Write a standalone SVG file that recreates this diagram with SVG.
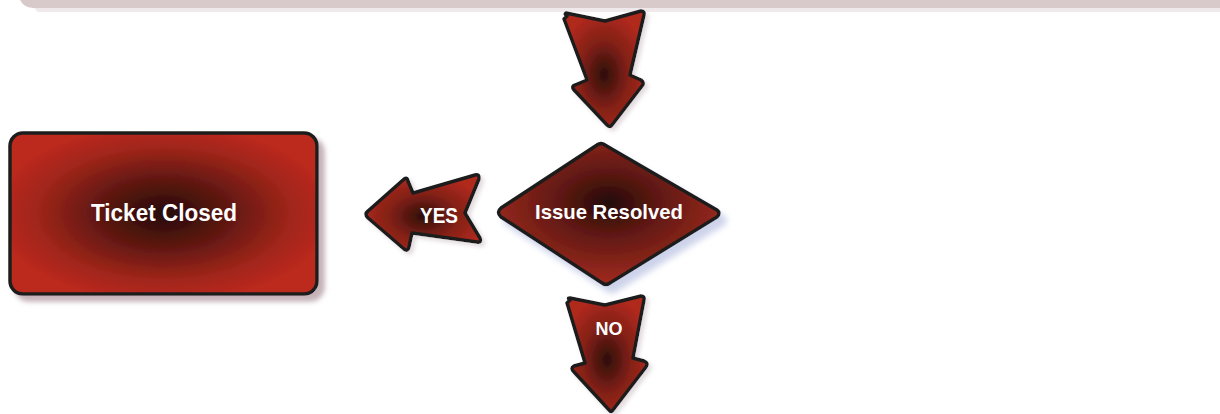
<svg xmlns="http://www.w3.org/2000/svg" width="1220" height="414" viewBox="0 0 1220 414">
  <defs>
    <radialGradient id="gBox" cx="50%" cy="50%" r="55%">
      <stop offset="0" stop-color="#250b08"/>
      <stop offset="0.35" stop-color="#5a1610"/>
      <stop offset="0.75" stop-color="#a0251a"/>
      <stop offset="1" stop-color="#bb291d"/>
    </radialGradient>
    <radialGradient id="gDia" cx="50%" cy="42%" r="55%">
      <stop offset="0" stop-color="#230a07"/>
      <stop offset="0.4" stop-color="#5e1812"/>
      <stop offset="1" stop-color="#9c291e"/>
    </radialGradient>
    <radialGradient id="gArrow" cx="50%" cy="55%" r="55%">
      <stop offset="0" stop-color="#2e0e0a"/>
      <stop offset="0.5" stop-color="#7e1f16"/>
      <stop offset="1" stop-color="#b0291d"/>
    </radialGradient>
    <filter id="shBox" x="-10%" y="-10%" width="125%" height="130%">
      <feGaussianBlur in="SourceAlpha" stdDeviation="2.5"/>
      <feOffset dx="6" dy="6" result="b"/>
      <feFlood flood-color="#c4b2b8"/>
      <feComposite in2="b" operator="in"/>
      <feMerge><feMergeNode/><feMergeNode in="SourceGraphic"/></feMerge>
    </filter>
    <filter id="shDia" x="-10%" y="-10%" width="125%" height="130%">
      <feGaussianBlur in="SourceAlpha" stdDeviation="3"/>
      <feOffset dx="6" dy="7" result="b"/>
      <feFlood flood-color="#cdd3ea"/>
      <feComposite in2="b" operator="in"/>
      <feMerge><feMergeNode/><feMergeNode in="SourceGraphic"/></feMerge>
    </filter>
    <filter id="shArr" x="-15%" y="-10%" width="135%" height="130%">
      <feGaussianBlur in="SourceAlpha" stdDeviation="2"/>
      <feOffset dx="3" dy="3" result="b"/>
      <feFlood flood-color="#e2dade"/>
      <feComposite in2="b" operator="in"/>
      <feMerge><feMergeNode/><feMergeNode in="SourceGraphic"/></feMerge>
    </filter>
  </defs>
  <style>
    .shape { stroke: #1e1e1c; stroke-width: 3.5; stroke-linejoin: round; }
    .lbl { font-family: "Liberation Sans", Arial, sans-serif; font-weight: bold; fill: #ffffff; text-anchor: middle; }
  </style>
  <rect width="1220" height="414" fill="#ffffff"/>

  <g id="top-bar">
    <path d="M20,0 H1220 V8 H34 Q24,8 20,0 Z" fill="#d8c9cb"/>
    <path d="M34,8 H1220 V12 H38 Z" fill="#efe9eb"/>
  </g>

  <g id="node-ticket-closed">
    <rect x="10" y="133" width="307" height="161" rx="13" ry="13" fill="url(#gBox)" class="shape" filter="url(#shBox)"/>
    <text x="164" y="221" class="lbl" font-size="23" textLength="146" lengthAdjust="spacingAndGlyphs">Ticket Closed</text>
  </g>

  <g id="node-issue-resolved">
    <path d="M501,208 L597,145 Q601,142 605,145 L717,210 Q721,213 717,217 L610,283 Q606,286 602,283 L501,217 Q496,212 501,208 Z" fill="url(#gDia)" class="shape" filter="url(#shDia)"/>
    <text x="609" y="219" class="lbl" font-size="21" textLength="148" lengthAdjust="spacingAndGlyphs">Issue Resolved</text>
  </g>

  <g id="connectors">
    <g id="arrow-top">
      <path d="M567,16 Q564,14 566,13 L605,21 L641,11 Q645,11 644,15 L630,75 L641,80 Q645,83 642,86 L612,125 Q610,128 607,125 L574,90 Q571,86 575,85 L587,80 L564,19 Z" fill="url(#gArrow)" class="shape" filter="url(#shArr)"/>
    </g>
    <g id="arrow-yes">
      <path d="M368,211 L403,180 Q407,176 408,181 L413,193 L475,175 Q480,174 479,179 L465,213 L480,238 Q482,243 477,242 L412,233 L409,247 Q408,252 404,249 L368,218 Q364,214 368,211 Z" fill="url(#gArrow)" class="shape" filter="url(#shArr)"/>
      <text x="439" y="223" class="lbl" font-size="22" textLength="38" lengthAdjust="spacingAndGlyphs">YES</text>
    </g>
    <g id="arrow-no">
      <path d="M570,300 Q567,298 570,298 L605,305 L641,296 Q645,296 644,300 L633,358 L644,361 Q649,363 646,367 L613,410 Q611,413 609,410 L574,372 Q570,368 574,366 L585,363 L567,303 Z" fill="url(#gArrow)" class="shape" filter="url(#shArr)"/>
      <text x="609" y="335" class="lbl" font-size="18">NO</text>
    </g>
  </g>
</svg>
